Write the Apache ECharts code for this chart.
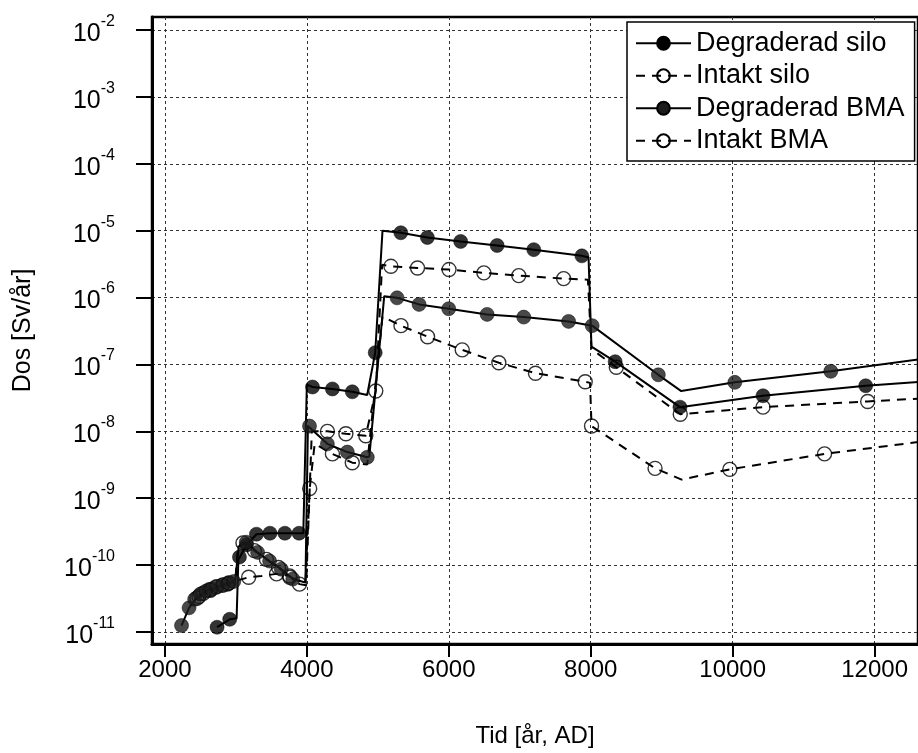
<!DOCTYPE html>
<html>
<head>
<meta charset="utf-8">
<script src="https://cdn.jsdelivr.net/npm/echarts@6/dist/echarts.min.js"></script>
<style>
html, body { margin: 0; padding: 0; background: #fff; }
#chart { width: 918px; height: 753px; }
</style>
</head>
<body>
<div id="chart"></div>
<script>
// Axis ticks
const xTicks = [2000, 4000, 6000, 8000, 10000, 12000];
const yTicks = [1e-11, 1e-10, 1e-9, 1e-8, 1e-7, 1e-6, 1e-5, 1e-4, 1e-3, 1e-2];
const seriesNames = ['Degraderad silo', 'Intakt silo', 'Degraderad BMA', 'Intakt BMA'];

// Degraderad silo: curve and marked points [år, Sv/år]
const siloDegradedLine = [
  [2735, 1.18e-11], [2913, 1.55e-11], [3010, 1.6e-11], [3035, 1.2e-10], [3150, 2.0e-10],
  [3290, 2.9e-10], [3480, 3.0e-10], [3690, 3.0e-10], [3950, 3.0e-10], [4000, 5.0e-8],
  [4080, 4.6e-8], [4360, 4.3e-8], [4640, 3.9e-8], [4850, 3.5e-8], [4963, 1.5e-7],
  [5066, 1.0e-5], [5324, 9.3e-6], [5698, 7.9e-6], [6167, 6.9e-6], [6681, 6.0e-6],
  [7197, 5.2e-6], [7875, 4.2e-6], [7969, 4.0e-6], [8010, 1.85e-7], [8344, 1.1e-7],
  [9257, 2.3e-8], [10427, 3.4e-8], [11874, 4.8e-8], [12650, 5.5e-8]
];
const siloDegradedMarks = [
  [2735, 1.18e-11], [2913, 1.55e-11], [3050, 1.32e-10], [3150, 2.0e-10], [3290, 2.9e-10],
  [3480, 3.0e-10], [3690, 3.0e-10], [3890, 3.0e-10], [4080, 4.6e-8], [4360, 4.3e-8],
  [4640, 3.9e-8], [4963, 1.5e-7], [5324, 9.3e-6], [5698, 7.9e-6], [6167, 6.9e-6],
  [6681, 6.0e-6], [7197, 5.2e-6], [7875, 4.2e-6], [8344, 1.1e-7], [9257, 2.3e-8],
  [10427, 3.4e-8], [11874, 4.8e-8]
];

// Intakt silo
const siloIntactLine = [
  [2420, 3.0e-11], [2600, 4.2e-11], [2800, 5.0e-11], [3000, 5.8e-11], [3180, 6.6e-11],
  [3362, 6.9e-11], [3573, 7.4e-11], [3756, 6.9e-11], [3896, 5.2e-11], [3990, 5.0e-11],
  [4070, 1.0e-8], [4290, 1.0e-8], [4550, 9.2e-9], [4830, 8.6e-9], [4971, 4.0e-8],
  [5060, 3.1e-6], [5184, 2.93e-6], [5559, 2.77e-6], [6003, 2.62e-6], [6494, 2.34e-6],
  [6986, 2.13e-6], [7618, 1.92e-6], [7960, 1.85e-6], [8010, 1.7e-7], [9261, 1.8e-8],
  [10427, 2.3e-8], [11902, 2.8e-8], [12650, 3.1e-8]
];
const siloIntactMarks = [
  [2450, 3.2e-11], [2540, 3.8e-11], [2630, 4.3e-11], [2720, 4.7e-11], [2810, 5.0e-11],
  [2900, 5.4e-11], [3180, 6.6e-11], [3573, 7.4e-11], [3756, 6.9e-11], [3896, 5.2e-11],
  [4290, 1.0e-8], [4550, 9.2e-9], [4830, 8.6e-9], [4971, 4.0e-8], [5184, 2.93e-6],
  [5559, 2.77e-6], [6003, 2.62e-6], [6494, 2.34e-6], [6986, 2.13e-6], [7618, 1.92e-6],
  [8360, 9.1e-8], [9261, 1.8e-8], [10427, 2.3e-8], [11902, 2.8e-8]
];

// Degraderad BMA
const bmaDegradedLine = [
  [2234, 1.25e-11], [2340, 2.3e-11], [2450, 3.3e-11], [2600, 4.2e-11], [2800, 5.0e-11],
  [2990, 5.8e-11], [3040, 1.9e-10], [3147, 2.2e-10], [3306, 1.55e-10], [3475, 1.15e-10],
  [3639, 8.7e-11], [3802, 6.2e-11], [3980, 5.5e-11], [4015, 1.2e-8], [4037, 1.2e-8],
  [4289, 6.5e-9], [4570, 4.9e-9], [4851, 4.1e-9], [4880, 4.2e-9], [5090, 1.05e-6],
  [5271, 9.9e-7], [5581, 7.9e-7], [5999, 6.8e-7], [6540, 5.6e-7], [7056, 5.1e-7],
  [7688, 4.4e-7], [8020, 3.8e-7], [8952, 7.0e-8], [9275, 4.0e-8], [10030, 5.4e-8],
  [11382, 7.9e-8], [12650, 1.2e-7]
];
const bmaDegradedMarks = [
  [2234, 1.25e-11], [2340, 2.3e-11], [2420, 3.1e-11], [2500, 3.7e-11], [2580, 4.1e-11],
  [2660, 4.4e-11], [2740, 4.8e-11], [2820, 5.1e-11], [2900, 5.4e-11], [2970, 5.7e-11],
  [3147, 2.2e-10], [3306, 1.55e-10], [3475, 1.15e-10], [3639, 8.7e-11], [3802, 6.2e-11],
  [4037, 1.2e-8], [4289, 6.5e-9], [4570, 4.9e-9], [4851, 4.1e-9], [5271, 9.9e-7],
  [5581, 7.9e-7], [5999, 6.8e-7], [6540, 5.6e-7], [7056, 5.1e-7], [7688, 4.4e-7],
  [8020, 3.8e-7], [8952, 7.0e-8], [10030, 5.4e-8], [11382, 7.9e-8]
];

// Intakt BMA
const bmaIntactLine = [
  [2440, 3.2e-11], [2600, 4.0e-11], [2800, 4.8e-11], [2990, 5.6e-11], [3030, 1.9e-10],
  [3100, 2.15e-10], [3260, 1.65e-10], [3430, 1.22e-10], [3600, 9.2e-11], [3760, 6.6e-11],
  [3980, 5.3e-11], [4040, 1.4e-9], [4110, 6.5e-9], [4360, 4.6e-9], [4640, 3.4e-9],
  [4850, 3.2e-9], [5066, 5.2e-7], [5326, 3.8e-7], [5701, 2.6e-7], [6189, 1.65e-7],
  [6705, 1.06e-7], [7221, 7.4e-8], [7922, 5.5e-8], [7990, 5.3e-8], [8011, 1.2e-8],
  [8906, 2.8e-9], [9280, 1.9e-9], [9959, 2.7e-9], [11294, 4.6e-9], [12650, 7.0e-9]
];
const bmaIntactMarks = [
  [2480, 3.4e-11], [2640, 4.2e-11], [2880, 5.2e-11], [3100, 2.15e-10], [3260, 1.65e-10],
  [3430, 1.22e-10], [3600, 9.2e-11], [3760, 6.6e-11], [4040, 1.4e-9], [4360, 4.6e-9],
  [4640, 3.4e-9], [5326, 3.8e-7], [5701, 2.6e-7], [6189, 1.65e-7], [6705, 1.06e-7],
  [7221, 7.4e-8], [7922, 5.5e-8], [8011, 1.2e-8], [8906, 2.8e-9], [9959, 2.7e-9],
  [11294, 4.6e-9]
];

const FONT = '"Liberation Sans", Arial, Helvetica, sans-serif';
const INK = '#000';

function markerStyle(kind) {
  if (kind === 'open') {
    return { color: 'rgba(255,255,255,0)', borderColor: INK, borderWidth: 1.4 };
  }
  return { color: kind, borderColor: INK, borderWidth: 0.6 };
}

function curve(name, data, dashed, kind) {
  return {
    type: 'line', name: name, data: data,
    showSymbol: false, symbol: 'circle', symbolSize: 13,
    lineStyle: { color: INK, width: 2, type: dashed ? [9, 7] : 'solid' },
    itemStyle: markerStyle(kind),
    silent: true, z: 2
  };
}

function marks(name, data, kind, z) {
  return {
    type: 'scatter', name: name, data: data,
    symbol: 'circle', symbolSize: 14,
    itemStyle: markerStyle(kind),
    silent: true, z: z
  };
}

const chart = echarts.init(document.getElementById('chart'), null, { renderer: 'canvas' });

chart.setOption({
  animation: false,
  backgroundColor: '#fff',
  grid: {
    left: 152, top: 17, right: -3, bottom: 108,
    show: true, borderColor: INK, borderWidth: 2.5, backgroundColor: '#fff'
  },
  legend: {
    data: seriesNames,
    orient: 'vertical',
    left: 627, top: 22,
    backgroundColor: '#fff',
    borderColor: INK, borderWidth: 1.5, borderRadius: 0,
    padding: [5, 10, 4, 8],
    itemWidth: 55, itemHeight: 16, itemGap: 0,
    textStyle: { fontFamily: FONT, fontSize: 27, color: INK, lineHeight: 32.5 },
    selectedMode: false
  },
  xAxis: {
    type: 'value',
    min: 1818, max: 12611,
    name: 'Tid [år, AD]',
    nameLocation: 'middle', nameGap: 80,
    nameTextStyle: { fontFamily: FONT, fontSize: 24, color: INK },
    axisLine: { show: true, onZero: false, lineStyle: { color: INK, width: 3 } },
    axisTick: { show: true, inside: false, length: 13, lineStyle: { color: INK, width: 2 }, customValues: xTicks },
    axisLabel: { show: true, margin: 14, fontFamily: FONT, fontSize: 24, color: INK, customValues: xTicks,
      formatter: v => String(v) },
    splitLine: { show: true, lineStyle: { color: '#333', width: 1, type: [3, 3] } }
  },
  yAxis: {
    type: 'log', logBase: 10,
    min: Math.pow(10, -11.179), max: Math.pow(10, -1.806),
    splitNumber: 10,
    name: 'Dos [Sv/år]',
    nameLocation: 'middle', nameGap: 116, nameRotate: 90,
    nameTextStyle: { fontFamily: FONT, fontSize: 25, color: INK },
    axisLine: { show: true, onZero: false, lineStyle: { color: INK, width: 3 } },
    axisTick: { show: true, inside: false, length: 16, lineStyle: { color: INK, width: 2 }, customValues: yTicks },
    axisLabel: {
      show: true, margin: 37, customValues: yTicks,
      formatter: v => '{b|10}{e|' + Math.round(Math.log10(v)) + '}',
      rich: {
        b: { fontFamily: FONT, fontSize: 25, color: INK, verticalAlign: 'bottom', lineHeight: 33 },
        e: { fontFamily: FONT, fontSize: 16, color: INK, verticalAlign: 'top', lineHeight: 16 }
      }
    },
    splitLine: { show: true, lineStyle: { color: '#333', width: 1, type: [3, 3] } }
  },
  series: [
    curve(seriesNames[0], siloDegradedLine, false, '#000'),
    curve(seriesNames[1], siloIntactLine, true, 'open'),
    curve(seriesNames[2], bmaDegradedLine, false, '#1c1c1c'),
    curve(seriesNames[3], bmaIntactLine, true, 'open'),
    marks(seriesNames[1], siloIntactMarks, 'open', 3),
    marks(seriesNames[3], bmaIntactMarks, 'open', 3),
    marks(seriesNames[0], siloDegradedMarks, '#000', 4),
    marks(seriesNames[2], bmaDegradedMarks, '#1c1c1c', 4)
  ]
});
</script>
</body>
</html>
